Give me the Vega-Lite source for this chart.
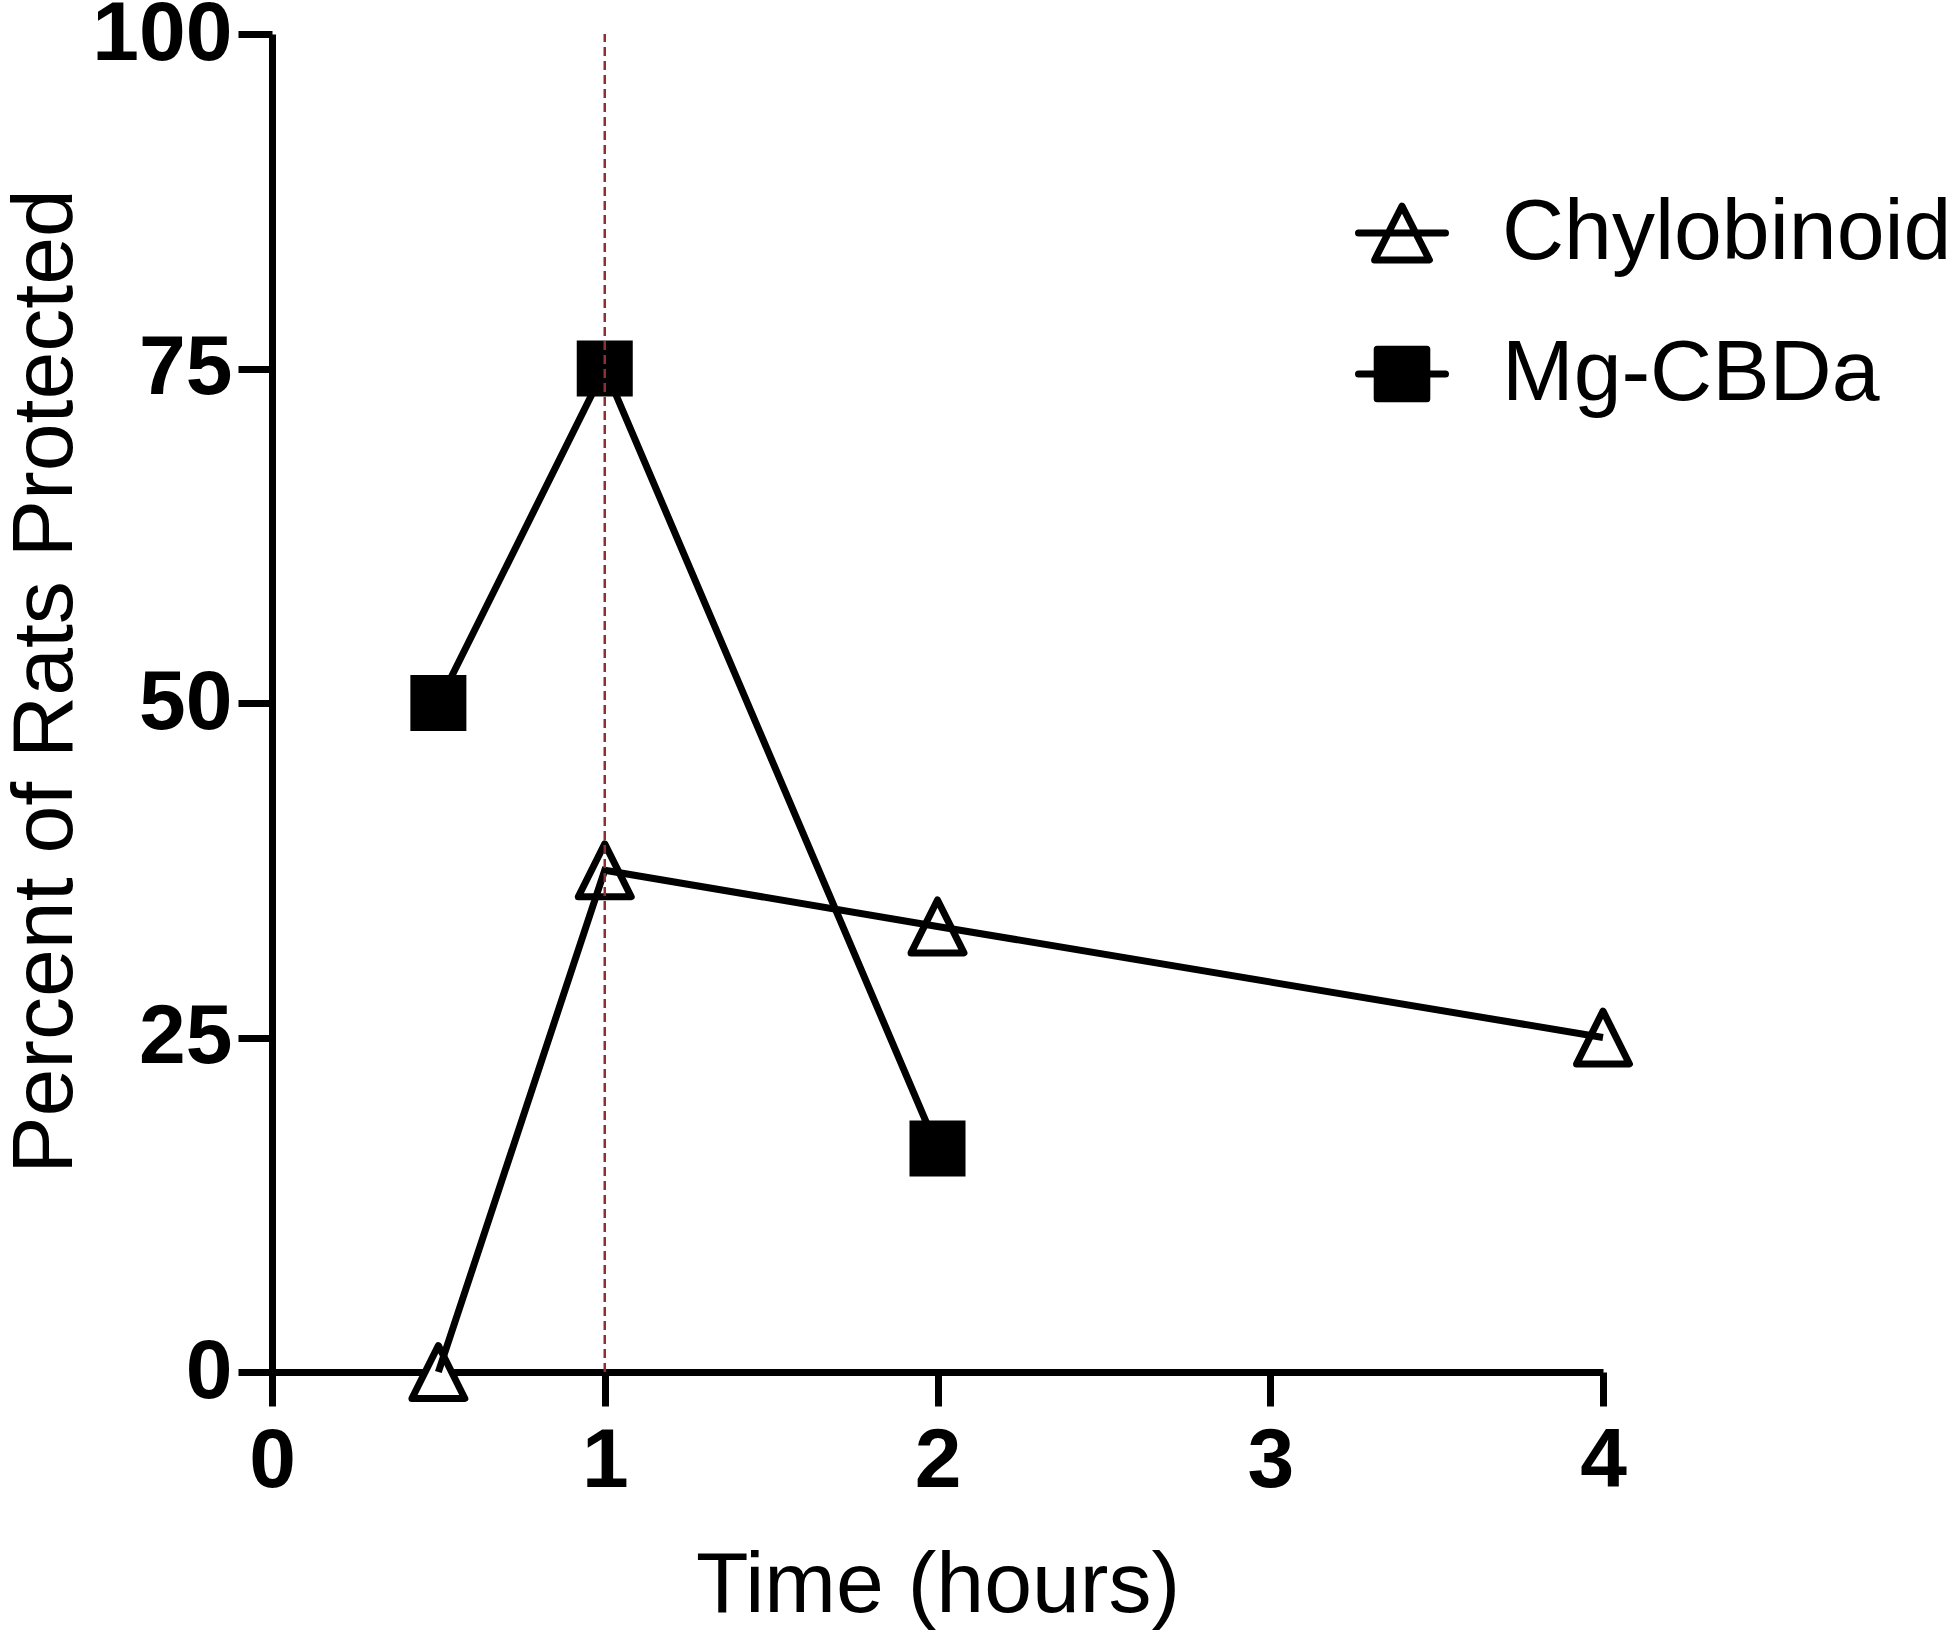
{
  "$schema": "https://vega.github.io/schema/vega-lite/v6.json",
  "width": 1331,
  "height": 1338,
  "autosize": {"type": "none"},
  "padding": {"left": 272, "top": 34, "right": 347, "bottom": 270},
  "background": "white",
  "config": {
    "view": {"stroke": null},
    "font": "Liberation Sans",
    "axis": {
      "grid": false,
      "domainColor": "black",
      "domainWidth": 7,
      "tickColor": "black",
      "tickWidth": 7,
      "tickSize": 34,
      "labelFont": "Liberation Sans",
      "labelFontWeight": "bold",
      "labelFontSize": 84,
      "labelColor": "black",
      "titleFont": "Liberation Sans",
      "titleFontWeight": "normal",
      "titleFontSize": 86,
      "titleColor": "black"
    }
  },
  "datasets": {
    "pts": [
      {"series": "Chylobinoid", "time": 0.5, "pct": 0},
      {"series": "Chylobinoid", "time": 1, "pct": 37.5},
      {"series": "Chylobinoid", "time": 2, "pct": 33.3},
      {"series": "Chylobinoid", "time": 4, "pct": 25},
      {"series": "Mg-CBDa", "time": 0.5, "pct": 50},
      {"series": "Mg-CBDa", "time": 1, "pct": 75},
      {"series": "Mg-CBDa", "time": 2, "pct": 16.7}
    ]
  },
  "data": {"name": "pts"},
  "encoding": {
    "x": {
      "field": "time",
      "type": "quantitative",
      "scale": {"domain": [0, 4], "nice": false, "zero": false},
      "axis": {"values": [0, 1, 2, 3, 4], "title": "Time (hours)", "labelPadding": 14, "titlePadding": 40, "labelFlush": false}
    },
    "y": {
      "field": "pct",
      "type": "quantitative",
      "scale": {"domain": [0, 100], "nice": false},
      "axis": {"values": [0, 25, 50, 75, 100], "title": "Percent of Rats Protected", "labelPadding": 6, "titlePadding": 2, "titleY": 647, "labelFlush": false}
    }
  },
  "layer": [
    {
      "transform": [{"filter": "datum.series === 'Chylobinoid'"}],
      "mark": {"type": "point", "shape": "M0,-1L1,1H-1Z", "size": 2800, "filled": true, "fill": "white", "stroke": "black", "strokeWidth": 7, "strokeJoin": "round", "opacity": 1}
    },
    {
      "transform": [{"filter": "datum.series === 'Mg-CBDa'"}],
      "mark": {"type": "point", "shape": "square", "size": 2500, "filled": true, "fill": "black", "stroke": "black", "strokeWidth": 6, "opacity": 1}
    },
    {
      "mark": {"type": "line", "color": "black", "strokeWidth": 7},
      "encoding": {"detail": {"field": "series"}}
    },
    {
      "mark": {"type": "point", "filled": true, "opacity": 0, "stroke": "black", "strokeWidth": 7},
      "encoding": {
        "shape": {
          "field": "series",
          "type": "nominal",
          "scale": {"domain": ["Chylobinoid", "Mg-CBDa"], "range": ["M-1,0H1M0,-0.62L0.63,0.62H-0.63Z", "M-1,0H1M-0.57,-0.57H0.57V0.57H-0.57Z"]},
          "legend": {
            "title": null,
            "orient": "none",
            "legendX": 1083,
            "legendY": 152,
            "padding": 0,
            "symbolSize": 7569,
            "symbolStrokeColor": "black",
            "symbolStrokeWidth": 7,
            "symbolOpacity": 1,
            "labelFont": "Liberation Sans",
            "labelFontSize": 86,
            "labelColor": "black",
            "labelOffset": 53,
            "rowPadding": 51,
            "labelLimit": 0,
            "encode": {"symbols": {"update": {"opacity": {"value": 1}, "stroke": {"value": "black"}, "strokeWidth": {"value": 7}, "strokeCap": {"value": "round"}, "strokeJoin": {"value": "round"}}}}
          }
        },
        "fill": {
          "field": "series",
          "type": "nominal",
          "scale": {"domain": ["Chylobinoid", "Mg-CBDa"], "range": ["white", "black"]},
          "legend": {
            "title": null,
            "orient": "none",
            "legendX": 1083,
            "legendY": 152,
            "padding": 0,
            "symbolSize": 7569,
            "symbolStrokeColor": "black",
            "symbolStrokeWidth": 7,
            "symbolOpacity": 1,
            "labelFont": "Liberation Sans",
            "labelFontSize": 86,
            "labelColor": "black",
            "labelOffset": 53,
            "rowPadding": 51,
            "labelLimit": 0,
            "encode": {"symbols": {"update": {"opacity": {"value": 1}, "stroke": {"value": "black"}, "strokeWidth": {"value": 7}, "strokeCap": {"value": "round"}, "strokeJoin": {"value": "round"}}}}
          }
        }
      }
    },
    {
      "data": {"values": [{"t": 1, "lo": 0, "hi": 100}]},
      "mark": {"type": "rule", "color": "#8E2F36", "strokeWidth": 2.5, "strokeDash": [9, 5]},
      "encoding": {
        "x": {"field": "t", "type": "quantitative"},
        "y": {"field": "lo", "type": "quantitative"},
        "y2": {"field": "hi"}
      }
    }
  ]
}
